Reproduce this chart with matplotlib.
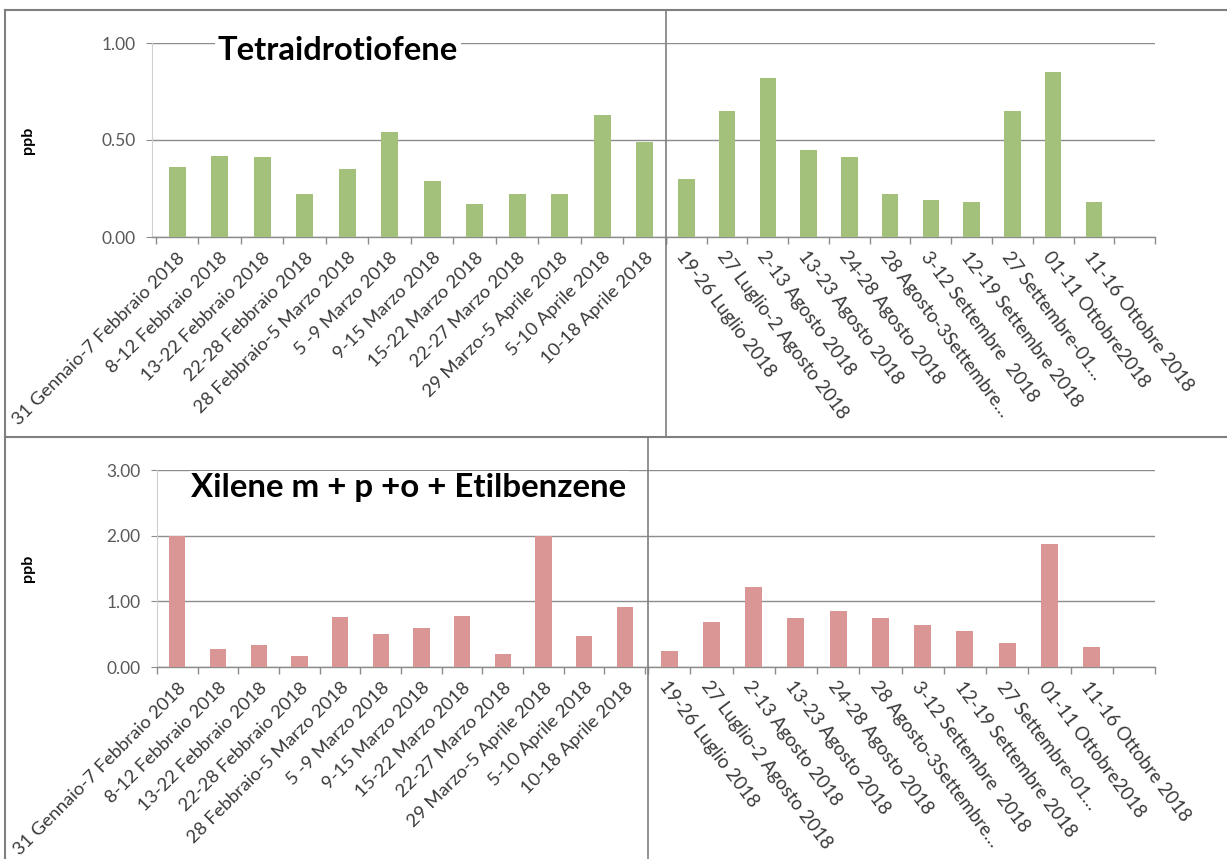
import matplotlib
matplotlib.use("Agg")
import matplotlib.pyplot as plt
import numpy as np
from matplotlib.lines import Line2D

# ---------------- data ----------------
cat_inverno = ["31 Gennaio-7 Febbraio 2018", "8-12 Febbraio 2018", "13-22 Febbraio 2018",
               "22-28 Febbraio 2018", "28 Febbraio-5 Marzo 2018", "5 -9 Marzo 2018",
               "9-15 Marzo 2018", "15-22 Marzo 2018", "22-27 Marzo 2018",
               "29 Marzo-5 Aprile 2018", "5-10 Aprile 2018", "10-18 Aprile 2018"]
cat_estate = ["19-26 Luglio 2018", "27 Luglio-2 Agosto 2018", "2-13 Agosto 2018",
              "13-23 Agosto 2018", "24-28 Agosto 2018", "28 Agosto-3Settembre…",
              "3-12 Settembre  2018", "12-19 Settembre 2018", "27 Settembre-01…",
              "01-11 Ottobre2018", "11-16 Ottobre 2018"]

tht_inverno = [0.36, 0.42, 0.41, 0.22, 0.35, 0.54, 0.29, 0.17, 0.22, 0.22, 0.63, 0.49]
tht_estate = [0.30, 0.65, 0.82, 0.45, 0.41, 0.22, 0.19, 0.18, 0.65, 0.85, 0.18]

xil_inverno = [2.00, 0.27, 0.33, 0.17, 0.76, 0.51, 0.59, 0.77, 0.20, 1.99, 0.47, 0.92]
xil_estate = [0.25, 0.68, 1.22, 0.74, 0.86, 0.75, 0.64, 0.55, 0.37, 1.88, 0.31]

titolo_1 = "Tetraidrotiofene"
titolo_2 = "Xilene m + p +o + Etilbenzene"
unita = "ppb"

# ---------------- styling ----------------
W, H = 1227, 859
FONT = "Lato"
GREEN = "#A3C17A"
PINK = "#D99694"
GRID = "#8C8C8C"
FRAME = "#7F7F7F"
LBL = "#3A3A3A"
YLBL = "#595959"

plt.rcParams['font.family'] = [FONT, 'DejaVu Sans']

fig = plt.figure(figsize=(W / 100, H / 100), dpi=100)
fig.patch.set_facecolor("white")


def rect(x0, x1, ytop, ybot):
    return [x0 / W, 1 - ybot / H, (x1 - x0) / W, (ybot - ytop) / H]


def make_axes(r, xlim, ylim, yticks, values, cats, color, side):
    ax = fig.add_axes(r)
    n_slots = 12
    x = np.arange(len(values))
    ax.bar(x, values, width=0.4, color=color, zorder=3)
    ax.set_xlim(*xlim)
    ax.set_ylim(*ylim)
    ax.set_yticks(yticks)
    ax.yaxis.grid(True, color=GRID, linewidth=1.0, zorder=0)
    ax.set_axisbelow(True)
    for s in ["top", "right"]:
        ax.spines[s].set_visible(False)
    ax.spines["bottom"].set_color(GRID)
    ax.spines["bottom"].set_linewidth(1.0)
    ax.set_facecolor("none")
    # category labels at centres, tick marks at boundaries
    ax.set_xticks(np.arange(len(cats)))
    bounds = np.arange(n_slots + 1) - 0.5
    ax.set_xticks(bounds, minor=True)
    ax.tick_params(axis="x", which="minor", length=5, color=GRID, width=1)
    if side == "left":
        ax.tick_params(axis="x", which="major", length=0, pad=9)
        ax.set_xticklabels(cats, rotation=45, ha="right", va="top",
                           rotation_mode="anchor", fontsize=13.3, color=LBL)
        ax.spines["left"].set_color("#D0D0D0")
        ax.set_yticklabels([f"{v:.2f}" for v in yticks], fontsize=12.5, color=YLBL)
        ax.tick_params(axis="y", length=4, color=GRID, pad=8)
    else:
        ax.tick_params(axis="x", which="major", length=0, pad=8)
        ax.set_xticklabels(cats, rotation=-53, ha="left", va="top",
                           rotation_mode="anchor", fontsize=13.5, color=LBL)
        ax.spines["left"].set_visible(False)
        ax.tick_params(axis="y", length=0, labelleft=False)
    return ax


# top panel
make_axes(rect(152, 666, 43, 237), (-0.59, 11.5), (0, 1.0), [0, 0.5, 1.0],
          tht_inverno, cat_inverno, GREEN, "left")
make_axes(rect(666, 1155, 43, 237), (-0.33, 11.5), (0, 1.0), [0, 0.5, 1.0],
          tht_estate, cat_estate, GREEN, "right")
# bottom panel
make_axes(rect(157, 648, 470, 667), (-0.49, 11.57), (0, 3.0), [0, 1.0, 2.0, 3.0],
          xil_inverno, cat_inverno, PINK, "left")
make_axes(rect(648, 1155, 470, 667), (-0.155, 11.5), (0, 3.0), [0, 1.0, 2.0, 3.0],
          xil_estate, cat_estate, PINK, "right")

# titles
fig.text(338 / W, 1 - 50 / H, titolo_1, fontsize=23.6, fontweight="bold",
         ha="center", va="center", color="black",
         bbox=dict(facecolor="white", edgecolor="none", pad=2), zorder=10)
fig.text(409 / W, 1 - 488 / H, titolo_2, fontsize=23.8, fontweight="bold",
         ha="center", va="center", color="black",
         bbox=dict(facecolor="white", edgecolor="none", pad=2), zorder=10)

# y labels
fig.text(28 / W, 1 - 140 / H, unita, rotation=90, fontsize=11.5, fontweight="bold",
         ha="center", va="center", color="black")
fig.text(28 / W, 1 - 568 / H, unita, rotation=90, fontsize=11.5, fontweight="bold",
         ha="center", va="center", color="black")

# frames and separators (figure pixel coords)
def fline(xs, ys, lw=1.5):
    fig.add_artist(Line2D([x / W for x in xs], [1 - y / H for y in ys],
                          color=FRAME, linewidth=lw, zorder=20))

fline([5, 1227], [10, 10])
fline([5, 5], [10, 859])
fline([5, 1227], [437, 437])
fline([666, 666], [10, 437], lw=1.2)
fline([648, 648], [437, 859], lw=1.2)

fig.savefig("out.png", dpi=100, facecolor="white")
